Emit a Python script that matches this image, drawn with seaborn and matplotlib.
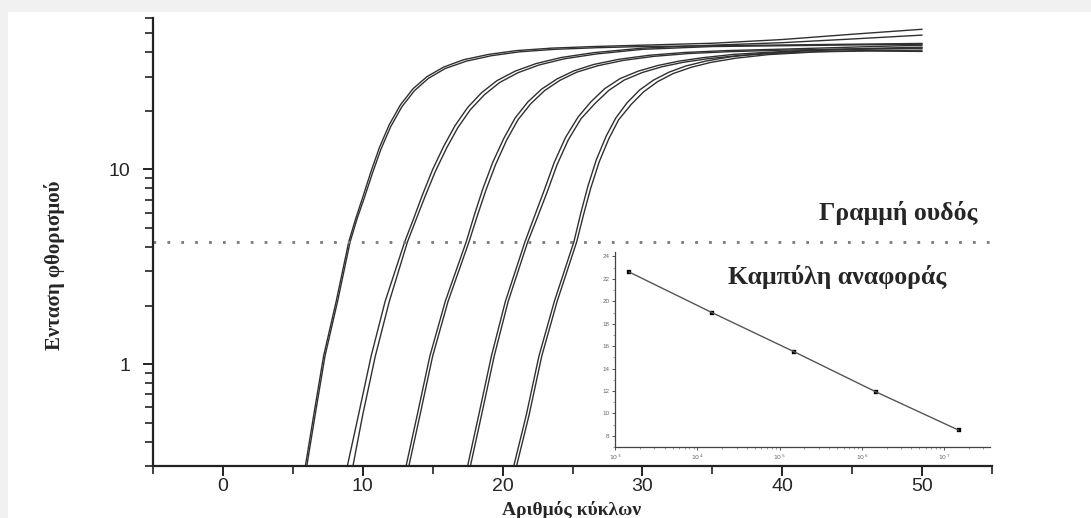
import matplotlib.pyplot as plt
import matplotlib.ticker as mticker
from matplotlib.patches import Rectangle
import pandas as pd
import seaborn as sns

sns.set_style('ticks')
plt.rcParams['font.family'] = ['Liberation Sans', 'DejaVu Sans']

# amplification curves (cycle, fluorescence), two replicates per dilution
g1a_cycle = [5.9, 6.5, 7.2, 8.1, 9.0, 9.5, 10.0, 10.6, 11.2, 11.9, 12.7, 13.6, 14.6, 15.8, 17.2, 19.0, 21.0, 23.5, 26.5, 30, 35, 40, 45, 50]
g1a_fluor = [0.30, 0.55, 1.1, 2.1, 4.25, 5.6, 7.2, 9.8, 13.0, 17.0, 21.5, 26.0, 30.0, 33.6, 36.6, 39.0, 40.8, 42.0, 42.8, 43.5, 44.5, 46.5, 49.5, 52.5]
g1b_cycle = [6.0, 6.6, 7.3, 8.2, 9.1, 9.6, 10.1, 10.7, 11.3, 12.0, 12.8, 13.7, 14.7, 15.9, 17.4, 19.2, 21.2, 23.7, 26.7, 30, 35, 40, 45, 50]
g1b_fluor = [0.30, 0.55, 1.1, 2.1, 4.25, 5.6, 7.1, 9.6, 12.7, 16.6, 21.0, 25.4, 29.4, 33.0, 36.0, 38.4, 40.2, 41.4, 42.2, 42.8, 43.2, 43.6, 44.0, 44.4]

g2a_cycle = [8.9, 9.7, 10.6, 11.6, 13.0, 13.6, 14.3, 15.0, 15.8, 16.6, 17.5, 18.5, 19.6, 20.9, 22.4, 24.2, 26.5, 30, 35, 40, 45, 50]
g2a_fluor = [0.30, 0.55, 1.1, 2.1, 4.25, 5.5, 7.5, 10.0, 13.2, 16.8, 20.8, 24.8, 28.6, 32.0, 35.0, 37.6, 39.8, 42.0, 43.5, 44.8, 46.8, 49.0]
g2b_cycle = [9.3, 10.0, 10.9, 11.9, 13.2, 13.8, 14.5, 15.2, 16.0, 16.8, 17.7, 18.7, 19.8, 21.1, 22.6, 24.4, 26.7, 30, 35, 40, 45, 50]
g2b_fluor = [0.30, 0.55, 1.1, 2.1, 4.25, 5.5, 7.4, 9.8, 12.9, 16.4, 20.3, 24.2, 28.0, 31.4, 34.4, 37.0, 39.2, 41.4, 42.8, 43.2, 43.6, 44.0]

g3a_cycle = [13.1, 13.9, 14.8, 15.9, 17.4, 18.0, 18.6, 19.3, 20.1, 20.9, 21.8, 22.8, 23.9, 25.1, 26.5, 28.3, 30.5, 33, 36, 40, 45, 50]
g3a_fluor = [0.30, 0.55, 1.1, 2.1, 4.25, 5.9, 8.0, 10.9, 14.5, 18.4, 22.2, 25.9, 29.2, 32.1, 34.6, 36.8, 38.6, 39.9, 40.8, 41.5, 42.5, 43.5]
g3b_cycle = [13.3, 14.1, 15.0, 16.1, 17.6, 18.2, 18.8, 19.5, 20.3, 21.1, 22.0, 23.0, 24.1, 25.3, 26.8, 28.6, 30.8, 33.3, 36.3, 40, 45, 50]
g3b_fluor = [0.30, 0.55, 1.1, 2.1, 4.25, 5.8, 7.8, 10.6, 14.2, 18.0, 21.7, 25.4, 28.7, 31.6, 34.1, 36.3, 38.1, 39.4, 40.3, 41.0, 41.6, 42.0]

g4a_cycle = [17.5, 18.3, 19.2, 20.2, 21.6, 22.3, 23.0, 23.7, 24.5, 25.4, 26.3, 27.3, 28.4, 29.7, 31.1, 32.6, 34.3, 36.5, 39, 42, 46, 50]
g4a_fluor = [0.30, 0.55, 1.1, 2.1, 4.25, 5.8, 7.9, 10.9, 14.6, 18.6, 22.2, 26.0, 29.3, 32.0, 34.2, 36.0, 37.5, 39.0, 40.0, 41.0, 41.8, 42.5]
g4b_cycle = [17.7, 18.5, 19.4, 20.4, 21.8, 22.5, 23.2, 23.9, 24.7, 25.6, 26.6, 27.6, 28.7, 30.0, 31.4, 32.9, 34.6, 36.9, 39.5, 42.5, 46, 50]
g4b_fluor = [0.30, 0.55, 1.1, 2.1, 4.25, 5.7, 7.7, 10.6, 14.2, 18.2, 21.8, 25.5, 28.8, 31.5, 33.7, 35.5, 37.0, 38.5, 39.5, 40.3, 40.8, 41.0]

g5a_cycle = [20.8, 21.7, 22.6, 23.7, 25.1, 25.6, 26.1, 26.7, 27.4, 28.1, 28.9, 29.8, 30.8, 31.9, 33.1, 34.5, 36.2, 38.5, 42, 46, 50]
g5a_fluor = [0.30, 0.55, 1.1, 2.1, 4.25, 6.0, 8.2, 11.2, 14.8, 18.4, 22.0, 25.6, 28.8, 31.6, 34.0, 36.0, 37.8, 39.4, 40.8, 41.5, 42.0]
g5b_cycle = [21.0, 21.9, 22.8, 23.9, 25.3, 25.8, 26.3, 26.9, 27.6, 28.3, 29.2, 30.1, 31.1, 32.2, 33.5, 34.9, 36.7, 39.0, 42.5, 46, 50]
g5b_fluor = [0.30, 0.55, 1.1, 2.1, 4.25, 5.9, 8.0, 10.9, 14.4, 18.0, 21.6, 25.1, 28.3, 31.1, 33.5, 35.5, 37.3, 38.9, 40.2, 40.6, 40.4]

threshold = 4.25

# standard curve shown in the inset
std_copies = [1.5e3, 1.5e4, 1.5e5, 1.5e6, 1.5e7]
std_ct = [22.6, 19.0, 15.5, 11.9, 8.5]
inset_xticks = [1e3, 1e4, 1e5, 1e6, 1e7]
inset_xlabels = [r'$10^3$', r'$10^4$', r'$10^5$', r'$10^6$', r'$10^7$']
inset_yticks = [8, 10, 12, 14, 16, 18, 20, 22, 24]

main_xticks = [0, 10, 20, 30, 40, 50]

curves = [
    ('g1a', g1a_cycle, g1a_fluor), ('g1b', g1b_cycle, g1b_fluor),
    ('g2a', g2a_cycle, g2a_fluor), ('g2b', g2b_cycle, g2b_fluor),
    ('g3a', g3a_cycle, g3a_fluor), ('g3b', g3b_cycle, g3b_fluor),
    ('g4a', g4a_cycle, g4a_fluor), ('g4b', g4b_cycle, g4b_fluor),
    ('g5a', g5a_cycle, g5a_fluor), ('g5b', g5b_cycle, g5b_fluor),
]
df = pd.concat([pd.DataFrame({'curve': n, 'cycle': c, 'fluor': f}) for n, c, f in curves])

fig = plt.figure(figsize=(10.91, 5.18), dpi=100, facecolor='#f1f1f1')
# white card on the light grey page
fig.patches.append(Rectangle((0.007, 0), 0.993, 0.976, transform=fig.transFigure,
                             facecolor='white', edgecolor='none', zorder=-10))

ax = fig.add_axes([0.1402, 0.1004, 0.7691, 0.8649])
ax.set_facecolor('white')
for name, grp in df.groupby('curve'):
    sns.lineplot(data=grp, x='cycle', y='fluor', sort=False, estimator=None,
                 color='#303030', lw=1.0, solid_joinstyle='round', ax=ax)

ax.axhline(threshold, color='#7a7a7a', lw=2, ls=(0, (1, 4)))

ax.set_yscale('log')
ax.set_ylim(0.3, 60)
ax.set_xlim(-5, 55)
ax.set_xticks(main_xticks)
ax.xaxis.set_minor_locator(mticker.MultipleLocator(5))
ax.set_yticks([1, 10])
ax.yaxis.set_major_formatter(mticker.FuncFormatter(lambda v, p: f'{v:g}'))
ax.yaxis.set_minor_locator(mticker.LogLocator(base=10, subs=range(2, 10)))
ax.yaxis.set_minor_formatter(mticker.NullFormatter())
ax.tick_params(which='major', direction='out', length=7, width=1.4, labelsize=14, pad=2, color='#222')
ax.tick_params(axis='y', which='major', pad=9)
ax.tick_params(which='minor', direction='out', length=6, width=1.2, color='#222')
for s in ['top', 'right']:
    ax.spines[s].set_visible(False)
for s in ['left', 'bottom']:
    ax.spines[s].set_linewidth(1.6)
    ax.spines[s].set_color('#222')
ax.set_xlabel('')
ax.set_ylabel('')

fig.text(0.050, 0.488, 'Ενταση φθορισμού', rotation=90, ha='center', va='center',
         family='Liberation Serif', weight='bold', fontsize=15)
fig.text(0.524, 0.006, 'Αριθμός κύκλων', ha='center', va='baseline',
         family='Liberation Serif', weight='bold', fontsize=14)
fig.text(0.823, 0.589, 'Γραμμή ουδός', ha='center', va='center',
         family='Liberation Serif', weight='bold', fontsize=18.5)
fig.text(0.767, 0.465, 'Καμπύλη αναφοράς', ha='center', va='center',
         family='Liberation Serif', weight='bold', fontsize=18.5, zorder=5)

# inset: reference (standard) curve
axin = fig.add_axes([0.5637, 0.1371, 0.3437, 0.3764])
axin.set_facecolor('none')
sns.lineplot(x=std_copies, y=std_ct, color='#555555', lw=1.0, ax=axin)
sns.scatterplot(x=std_copies, y=std_ct, marker='s', s=9, color='black', edgecolor='black', ax=axin)
axin.set_xscale('log')
axin.set_xlim(1e3, 3.6e7)
axin.set_ylim(7, 24.4)
axin.set_xticks(inset_xticks)
axin.set_xticklabels(inset_xlabels)
axin.xaxis.set_minor_locator(mticker.LogLocator(base=10, subs=range(2, 10)))
axin.xaxis.set_minor_formatter(mticker.NullFormatter())
axin.set_yticks(inset_yticks)
axin.yaxis.set_minor_locator(mticker.MultipleLocator(1))
axin.tick_params(which='major', direction='out', length=2.5, width=0.7, labelsize=4.5,
                 labelcolor='#666', color='#555', pad=1.5)
axin.tick_params(which='minor', direction='out', length=1.5, width=0.5, color='#777')
for s in ['top', 'right']:
    axin.spines[s].set_visible(False)
for s in ['left', 'bottom']:
    axin.spines[s].set_linewidth(0.9)
    axin.spines[s].set_color('#444')

fig.savefig('out.png', dpi=100, facecolor=fig.get_facecolor())
